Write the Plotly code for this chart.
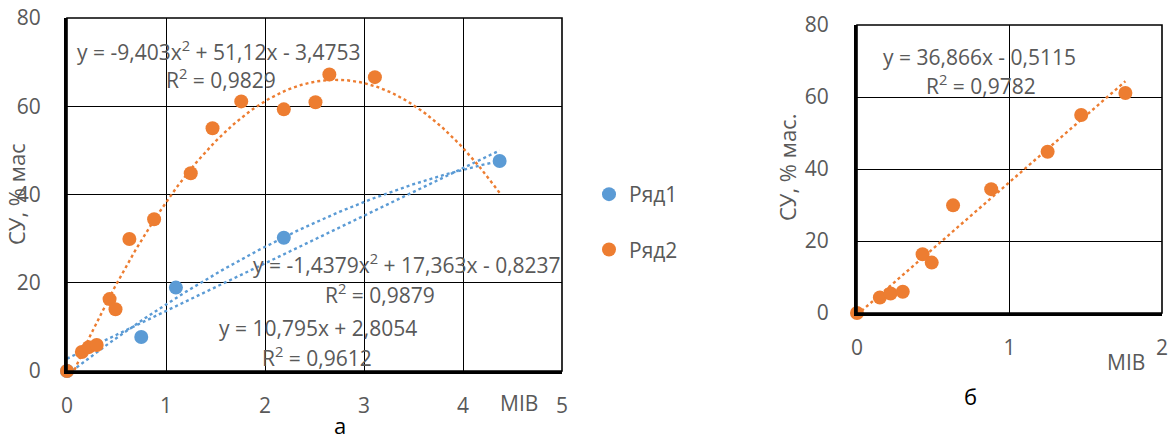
import numpy as np
import plotly.graph_objects as go

# ---- data ----
ryad1_x = [0, 0.75, 1.10, 2.19, 4.37]
ryad1_y = [0, 7.7, 18.9, 30.2, 47.6]

ryad2_x = [0, 0.15, 0.22, 0.30, 0.43, 0.49, 0.63, 0.88, 1.25, 1.47, 1.76, 2.19, 2.51, 2.65, 3.11]
ryad2_y = [0, 4.3, 5.4, 5.9, 16.3, 14.0, 29.9, 34.4, 44.8, 55.0, 61.1, 59.3, 60.9, 67.2, 66.6]

# panel б: first part of Ряд2
b_x = ryad2_x[:11]
b_y = ryad2_y[:11]

# trendline coefficients shown on chart (highest power first)
coef_r2_quad = [-9.403, 51.12, -3.4753]
coef_r1_quad = [-1.4379, 17.363, -0.8237]
coef_r1_lin = [10.795, 2.8054]
coef_b_lin = [36.866, -0.5115]

x_ticks_a = [0, 1, 2, 3, 4, 5]
y_ticks = [0, 20, 40, 60, 80]
x_ticks_b = [0, 1, 2]

BLUE = "#5B9BD5"
ORANGE = "#ED7D31"
GRAY = "#595959"
FONT = "Open Sans"
FS = 21

W, H = 1169, 442

def px(x):
    return x / W

def py(y):
    return 1 - y / H

fig = go.Figure()

xmax_a = max(max(ryad1_x), max(ryad2_x))
xs_a = np.linspace(0, xmax_a, 200)
xs_b = np.linspace(0, max(b_x), 100)

line_style = dict(width=2.4, dash="dot")
for coef, col in [(coef_r1_lin, BLUE), (coef_r1_quad, BLUE), (coef_r2_quad, ORANGE)]:
    fig.add_trace(go.Scatter(x=xs_a, y=np.polyval(coef, xs_a), mode="lines",
                             line=dict(color=col, **line_style), showlegend=False,
                             hoverinfo="skip", xaxis="x", yaxis="y"))
fig.add_trace(go.Scatter(x=xs_b, y=np.polyval(coef_b_lin, xs_b), mode="lines",
                         line=dict(color=ORANGE, **line_style), showlegend=False,
                         hoverinfo="skip", xaxis="x2", yaxis="y2"))

fig.add_trace(go.Scatter(x=ryad1_x, y=ryad1_y, mode="markers", name="Ряд1",
                         marker=dict(color=BLUE, size=14), cliponaxis=False,
                         legendgroup="g1", xaxis="x", yaxis="y"))
fig.add_trace(go.Scatter(x=ryad2_x, y=ryad2_y, mode="markers", name="Ряд2",
                         marker=dict(color=ORANGE, size=14), cliponaxis=False,
                         legendgroup="g2", xaxis="x", yaxis="y"))
fig.add_trace(go.Scatter(x=b_x, y=b_y, mode="markers", name="Ряд2 б",
                         marker=dict(color=ORANGE, size=14), cliponaxis=False,
                         showlegend=False, xaxis="x2", yaxis="y2"))

axis_common = dict(showgrid=True, gridcolor="black", gridwidth=1.4, showline=True,
                   linecolor="black", linewidth=3, zeroline=False, ticks="",
                   automargin=False,
                   tickfont=dict(family=FONT, size=FS, color=GRAY), fixedrange=True)

fig.update_layout(
    width=W, height=H,
    margin=dict(l=0, r=0, t=0, b=0, pad=0, autoexpand=False),
    paper_bgcolor="white", plot_bgcolor="white",
    font=dict(family=FONT, color=GRAY),
    xaxis=dict(domain=[px(67), px(562)], range=[0, 5], tickvals=x_ticks_a,
               anchor="y", ticklabelstandoff=14, **axis_common),
    yaxis=dict(domain=[py(371), py(18)], range=[0, 80], tickvals=y_ticks,
               anchor="x", ticklabelstandoff=19, **axis_common),
    xaxis2=dict(domain=[px(857), px(1162)], range=[0, 2], tickvals=x_ticks_b,
                anchor="y2", ticklabelstandoff=14, **axis_common),
    yaxis2=dict(domain=[py(313), py(25)], range=[0, 80], tickvals=y_ticks,
                anchor="x2", ticklabelstandoff=21, **axis_common),
    legend=dict(x=px(589), y=py(174), xanchor="left", yanchor="top",
                font=dict(family=FONT, size=FS, color=GRAY),
                tracegroupgap=25, bgcolor="rgba(0,0,0,0)"),
)

# plot-area frames (top/right edges coincide with the 80 / last x gridlines)
for xr, yr in [("x domain", "y domain"), ("x2 domain", "y2 domain")]:
    fig.add_shape(type="rect", xref=xr, yref=yr, x0=0, x1=1, y0=0, y1=1,
                  line=dict(color="black", width=1.6), layer="above")

def ann(text, x, y, size=FS, color=GRAY, angle=0):
    fig.add_annotation(text=text, x=px(x), y=py(y), xref="paper", yref="paper",
                       showarrow=False, xanchor="center", yanchor="middle",
                       textangle=angle, font=dict(family=FONT, size=size, color=color))

ann("y = -9,403x<sup>2</sup> + 51,12x - 3,4753", 219, 50)
ann("R<sup>2</sup> = 0,9829", 221, 78)
ann("y = -1,4379x<sup>2</sup> + 17,363x - 0,8237", 407, 263)
ann("R<sup>2</sup> = 0,9879", 380, 293)
ann("y = 10,795x + 2,8054", 318, 328)
ann("R<sup>2</sup> = 0,9612", 317, 356)
ann("y = 36,866x - 0,5115", 980, 57)
ann("R<sup>2</sup> = 0,9782", 981, 85)

ann("СУ, % мас", 16, 194, size=22, angle=-90)
ann("СУ, % мас.", 787, 168, size=22, angle=-90)
ann("МІВ", 519, 403)
ann("МІВ", 1126, 362)
ann("а", 340, 425, size=22, color="black")
ann("б", 970, 396, size=22, color="black")

fig.write_html("out.html")
